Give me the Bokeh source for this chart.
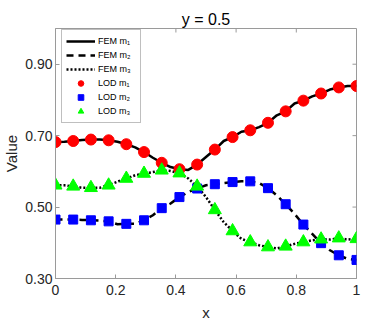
import numpy as np
from bokeh.plotting import figure
from bokeh.models import FixedTicker, Range1d
from bokeh.embed import file_html
from bokeh.resources import INLINE

# ---- data ----
x_lod = np.linspace(0, 1, 18)
x_fem = np.linspace(0, 1, 35)

lod_m1 = [0.682, 0.685, 0.689, 0.687, 0.676, 0.654, 0.624, 0.606, 0.619,
          0.661, 0.696, 0.715, 0.736, 0.768, 0.798, 0.818, 0.835, 0.839]
lod_m2 = [0.465, 0.465, 0.463, 0.460, 0.453, 0.463, 0.497, 0.528, 0.552,
          0.564, 0.570, 0.572, 0.553, 0.508, 0.451, 0.399, 0.365, 0.352]
lod_m3 = [0.561, 0.558, 0.554, 0.561, 0.580, 0.594, 0.603, 0.595, 0.558,
          0.492, 0.433, 0.402, 0.388, 0.390, 0.402, 0.410, 0.413, 0.411]

fem_m1 = [0.682, 0.683, 0.685, 0.688, 0.689, 0.689, 0.687, 0.683, 0.676,
          0.667, 0.654, 0.638, 0.624, 0.612, 0.606, 0.604, 0.619, 0.640,
          0.661, 0.685, 0.696, 0.711, 0.715, 0.724, 0.736, 0.757, 0.768,
          0.790, 0.798, 0.810, 0.818, 0.829, 0.835, 0.839, 0.839]
fem_m2 = [0.465, 0.465, 0.465, 0.464, 0.463, 0.462, 0.460, 0.452, 0.453,
          0.453, 0.463, 0.477, 0.497, 0.510, 0.528, 0.542, 0.552, 0.561,
          0.564, 0.567, 0.570, 0.572, 0.572, 0.567, 0.553, 0.533, 0.508,
          0.481, 0.451, 0.425, 0.399, 0.379, 0.365, 0.355, 0.352]
fem_m3 = [0.561, 0.561, 0.558, 0.554, 0.554, 0.554, 0.561, 0.571, 0.580,
          0.589, 0.594, 0.598, 0.603, 0.601, 0.595, 0.580, 0.558, 0.528,
          0.492, 0.458, 0.433, 0.411, 0.402, 0.393, 0.388, 0.384, 0.390,
          0.397, 0.402, 0.407, 0.410, 0.409, 0.413, 0.409, 0.411]

x_ticks = [0, 0.2, 0.4, 0.6, 0.8, 1.0]
x_tick_labels = ["0", "0.2", "0.4", "0.6", "0.8", "1"]
y_ticks = [0.3, 0.5, 0.7, 0.9]
y_tick_labels = ["0.30", "0.50", "0.70", "0.90"]

FONT = "Liberation Sans"
AXC = "#9a9a9a"
TXT = "#262626"

p = figure(frame_width=301, frame_height=250,
           x_range=Range1d(0, 1), y_range=Range1d(0.3, 1.0),
           output_backend="svg", toolbar_location=None,
           title="y = 0.5", min_border_left=0, min_border_right=29,
           min_border_top=28, min_border_bottom=0)
p.background_fill_color = "white"
p.border_fill_color = "white"
p.outline_line_color = AXC
p.grid.visible = False

p.title.align = "center"
p.title.text_font = FONT
p.title.text_font_size = "16px"
p.title.text_font_style = "normal"
p.title.text_color = "black"
p.title.standoff = 2

for ax in (p.xaxis[0], p.yaxis[0]):
    ax.axis_line_color = AXC
    ax.major_tick_line_color = AXC
    ax.major_tick_in = 4
    ax.major_tick_out = 0
    ax.minor_tick_line_color = None
    ax.major_label_text_font = FONT
    ax.major_label_text_font_size = "14px"
    ax.major_label_text_color = TXT
    ax.axis_label_text_font = FONT
    ax.axis_label_text_font_size = "15px"
    ax.axis_label_text_font_style = "normal"
    ax.axis_label_text_color = TXT

p.xaxis[0].ticker = FixedTicker(ticks=x_ticks)
p.xaxis[0].major_label_overrides = {t: l for t, l in zip(x_ticks, x_tick_labels)}
p.xaxis[0].axis_label = "x"
p.xaxis[0].major_label_standoff = 6
p.xaxis[0].axis_label_standoff = 6

p.yaxis[0].ticker = FixedTicker(ticks=y_ticks)
p.yaxis[0].major_label_overrides = {t: l for t, l in zip(y_ticks, y_tick_labels)}
p.yaxis[0].axis_label = "Value"
p.yaxis[0].major_label_standoff = 3
p.yaxis[0].axis_label_standoff = 2

# ticks on the top and right edges of the box (inward)
p.ray(x=x_ticks, y=[p.y_range.end] * len(x_ticks), length=4,
      length_units="screen", angle=-np.pi / 2, line_color=AXC, line_width=1)
p.ray(x=[p.x_range.end] * len(y_ticks), y=y_ticks, length=4,
      length_units="screen", angle=np.pi, line_color=AXC, line_width=1)

# FEM lines
p.line(x_fem, fem_m1, line_color="black", line_width=2.5, legend_label="FEM m₁")
p.line(x_fem, fem_m2, line_color="black", line_width=2.5, line_dash="7 5",
       legend_label="FEM m₂")
p.line(x_fem, fem_m3, line_color="black", line_width=2.5, line_dash="2 2",
       legend_label="FEM m₃")
# LOD markers
p.scatter(x_lod, lod_m1, marker="circle", size=11, fill_color="red",
          line_color="red", legend_label="LOD m₁")
p.scatter(x_lod, lod_m2, marker="square", size=9, fill_color="blue",
          line_color="blue", legend_label="LOD m₂")
p.scatter(x_lod, lod_m3, marker="triangle", size=13, fill_color="#00ff00",
          line_color="#00ff00", legend_label="LOD m₃")

lg = p.legend[0]
lg.location = (6, 155)
lg.label_text_font = FONT
lg.label_text_font_size = "9px"
lg.label_text_color = "black"
lg.glyph_width = 29
lg.glyph_height = 14
lg.label_height = 14
lg.label_width = 38
lg.spacing = 0
lg.padding = 4
lg.margin = 0
lg.label_standoff = 3
lg.border_line_color = "#7f7f7f"
lg.border_line_width = 1
lg.background_fill_color = "white"
lg.background_fill_alpha = 1.0

open("out.html", "w").write(file_html(p, INLINE))
